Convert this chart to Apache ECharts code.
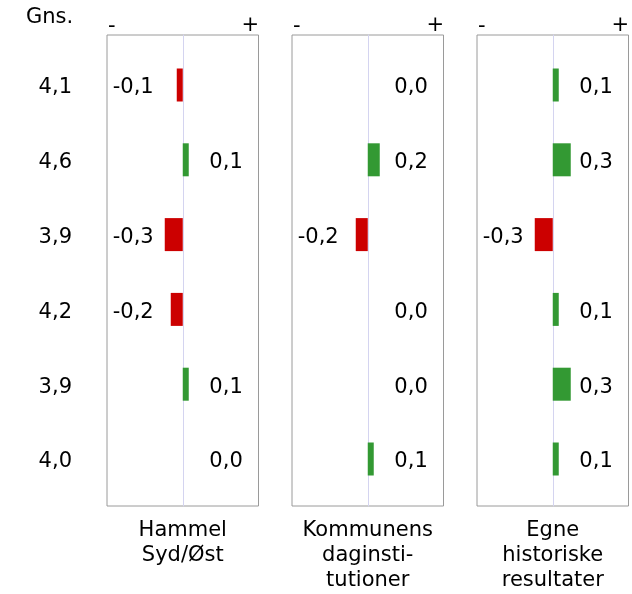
<!DOCTYPE html>
<html><head><meta charset="utf-8">
<script src="https://cdn.jsdelivr.net/npm/echarts@6/dist/echarts.min.js"></script>
<style>html,body{margin:0;padding:0;background:#fff}#c{width:632px;height:594px}</style>
</head><body><div id="c"></div>
<script>
// ---- data ----
const avgLabels = ['4,1', '4,6', '3,9', '4,2', '3,9', '4,0'];
const panelNames = ['Hammel\nSyd/Øst', 'Kommunens\ndaginsti-\ntutioner', 'Egne\nhistoriske\nresultater'];
const hammel = [-0.1, 0.1, -0.3, -0.2, 0.1, 0.0];
const kommune = [0.0, 0.2, -0.2, 0.0, 0.0, 0.1];
const egne = [0.1, 0.3, -0.3, 0.1, 0.3, 0.1];
const headerLabel = 'Gns.';
const minusLabel = '-';
const plusLabel = '+';

// ---- layout ----
const seriesData = [hammel, kommune, egne];
const lefts = [107, 292, 477];
const pw = 151.5, ptop = 35, ph = 471;
const btop = 47.6, bh = 448.8;
const xr = 1.2625;
const FONT = 'DejaVu Sans';
const FS = 21;
const TXT = '#000';
const RED = '#cc0000', GREEN = '#339933';
const fmt = v => v.toFixed(1).replace('.', ',');

const grid = [], xAxis = [], yAxis = [], series = [], graphic = [];
seriesData.forEach((vals, i) => {
  // border grid
  grid.push({ left: lefts[i], top: ptop, width: pw, height: ph, show: true, borderColor: '#9a9a9a', borderWidth: 1,
    backgroundColor: 'transparent', containLabel: false, outerBoundsMode: 'none' });
  xAxis.push({ gridIndex: 2 * i, type: 'value', min: -xr, max: xr, axisLine: { show: false }, axisTick: { show: false }, axisLabel: { show: false }, splitLine: { show: false },
    name: panelNames[i], nameLocation: 'middle', nameGap: 12,
    nameTextStyle: { fontFamily: FONT, fontSize: FS, color: TXT, lineHeight: 25, align: 'center', verticalAlign: 'top' } });
  yAxis.push({ gridIndex: 2 * i, type: 'value', min: 0, max: 1, axisLine: { show: true, onZero: true, lineStyle: { color: '#d4d4f0', width: 1 } }, axisTick: { show: false }, axisLabel: { show: false }, splitLine: { show: false } });
  // bar grid
  grid.push({ left: lefts[i], top: btop, width: pw, height: bh, show: false, containLabel: false, outerBoundsMode: 'none' });
  xAxis.push({ gridIndex: 2 * i + 1, type: 'value', min: -xr, max: xr, show: false });
  yAxis.push({ gridIndex: 2 * i + 1, type: 'category', data: avgLabels, inverse: true,
    axisLine: { show: false }, axisTick: { show: false }, splitLine: { show: false },
    axisLabel: { show: i === 0, margin: 35, fontFamily: FONT, fontSize: FS, color: TXT,
      formatter: v => '{a|' + v + '}',
      rich: { a: { fontFamily: FONT, fontSize: FS, color: TXT, padding: [6, 0, 0, 0] } } } });
  series.push({ type: 'bar', xAxisIndex: 2 * i + 1, yAxisIndex: 2 * i + 1, barWidth: 33, z: 3,
    data: vals.map(v => ({ value: v, itemStyle: { color: v < 0 ? RED : GREEN } })) });
  series.push({ type: 'scatter', xAxisIndex: 2 * i + 1, yAxisIndex: 2 * i + 1, symbolSize: 0, silent: true, z: 4,
    itemStyle: { opacity: 1 },
    data: vals.map((v, j) => ({ value: [v < 0 ? -1.167 : 1.0, j, v], label: { align: v < 0 ? 'left' : 'right' } })),
    label: { show: true, fontFamily: FONT, fontSize: FS, color: TXT, opacity: 1, distance: 0, position: 'inside',
      offset: [0, 3], formatter: p => fmt(p.value[2]) } });
  graphic.push({ type: 'text', left: lefts[i] + 1, top: 16, style: { text: minusLabel, font: FS + 'px ' + FONT, fill: TXT } });
  graphic.push({ type: 'text', left: lefts[i] + pw - 17, top: 15, style: { text: plusLabel, font: FS + 'px ' + FONT, fill: TXT } });
});
graphic.push({ type: 'text', left: 26, top: 7, style: { text: headerLabel, font: FS + 'px ' + FONT, fill: TXT } });

const chart = echarts.init(document.getElementById('c'), null, { renderer: 'canvas' });
chart.setOption({ animation: false, backgroundColor: '#fff', grid, xAxis, yAxis, series, graphic });
</script></body></html>
